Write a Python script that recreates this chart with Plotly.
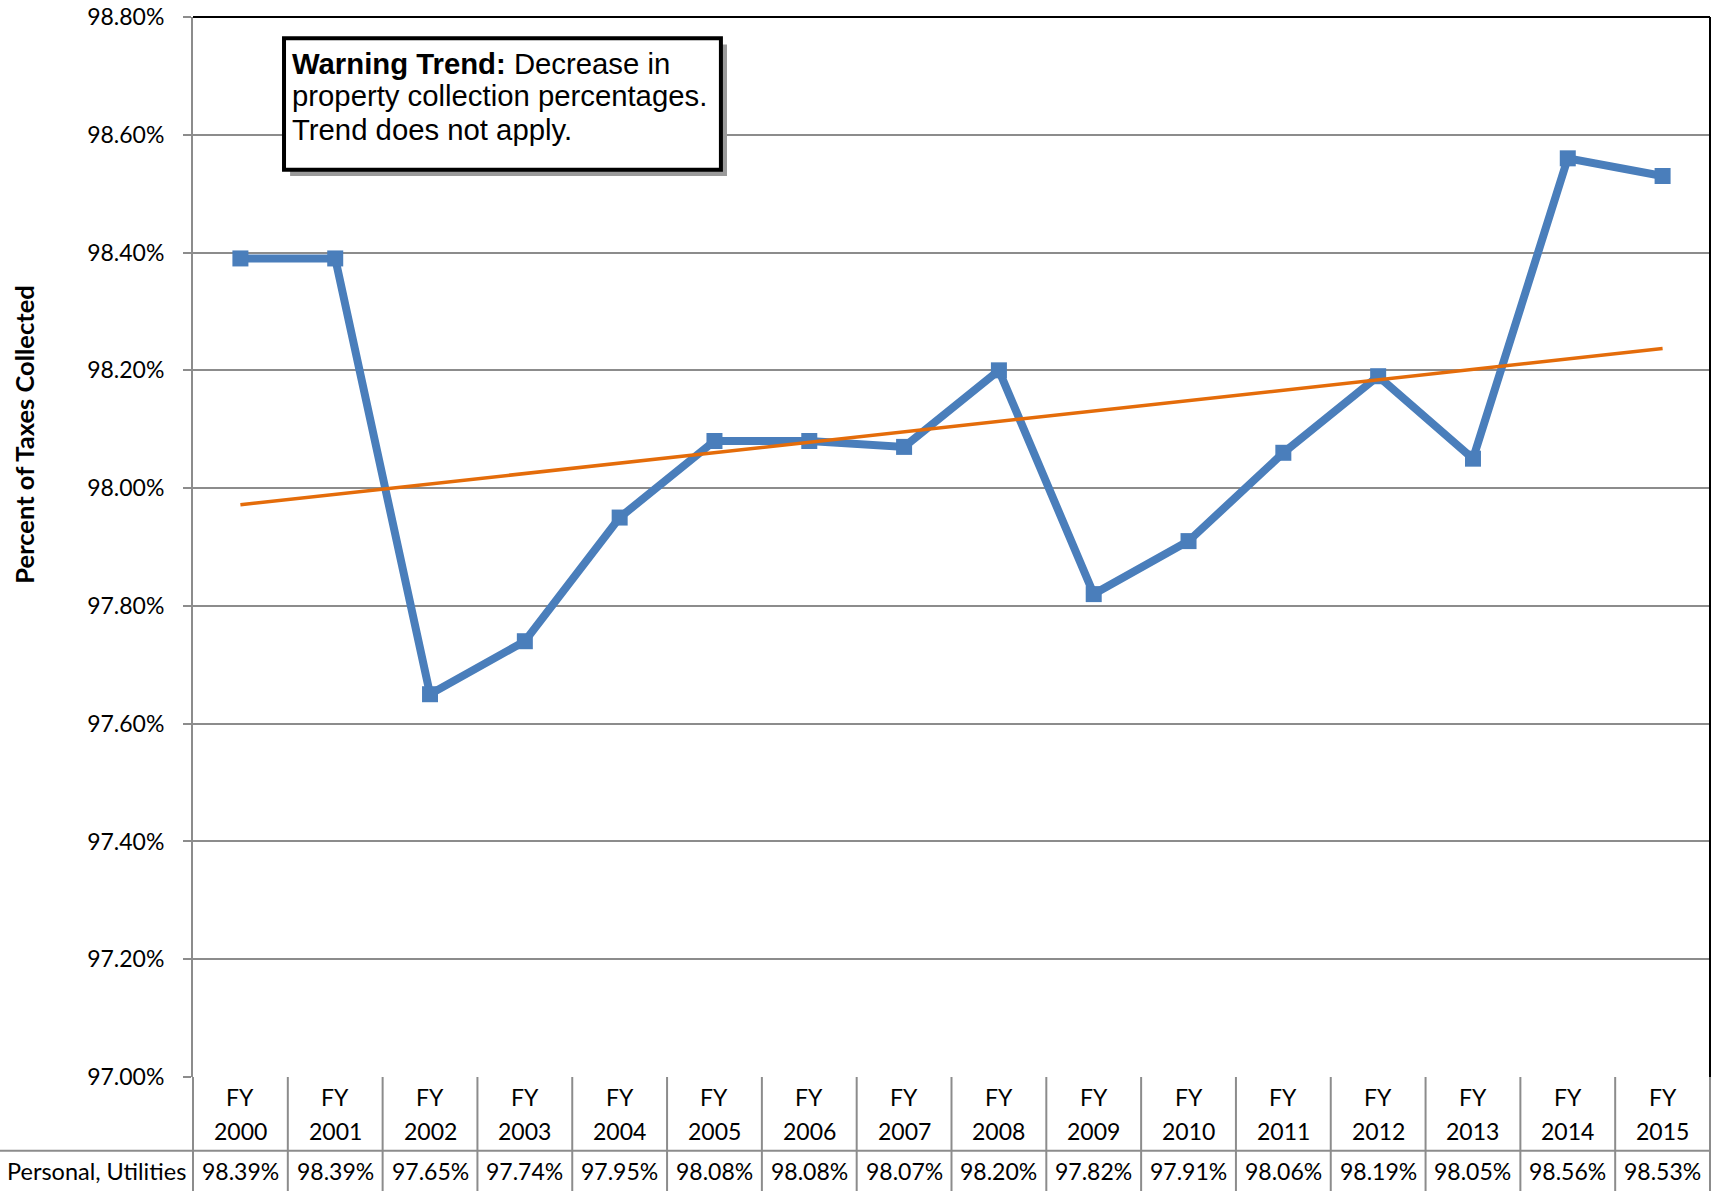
import numpy as np
import plotly.graph_objects as go

years = [2000, 2001, 2002, 2003, 2004, 2005, 2006, 2007, 2008, 2009, 2010, 2011, 2012, 2013, 2014, 2015]
values = [98.39, 98.39, 97.65, 97.74, 97.95, 98.08, 98.08, 98.07, 98.20, 97.82, 97.91, 98.06, 98.19, 98.05, 98.56, 98.53]
row_label = "Personal, Utilities"
y_title = "Percent of Taxes Collected"
y_ticks = [97.0, 97.2, 97.4, 97.6, 97.8, 98.0, 98.2, 98.4, 98.6, 98.8]
y_ticktext = [f"{v:.2f}%" for v in y_ticks]

idx = list(range(len(years)))
slope, intercept = np.polyfit(idx, values, 1)
trend = [slope * i + intercept for i in idx]

TICKFONT = "Lato, Calibri, Carlito, sans-serif"
BOXFONT = "Liberation Sans, Arial, sans-serif"

fig = go.Figure()
fig.add_trace(go.Scatter(
    x=idx, y=values, mode="lines+markers",
    line=dict(color="#4A7EBB", width=8),
    marker=dict(symbol="square", size=16, color="#4A7EBB"),
    showlegend=False, hoverinfo="skip"))
fig.add_trace(go.Scatter(
    x=idx, y=trend, mode="lines",
    line=dict(color="#E46C0A", width=3.5),
    showlegend=False, hoverinfo="skip"))

n = len(years)
shapes = []
grid = "#8C8C8C"
# table grid
for i in range(n + 1):
    shapes.append(dict(type="line", xref="paper", yref="paper", x0=i / n, x1=i / n,
                       y0=0, y1=-0.12, line=dict(color=grid, width=2)))
shapes.append(dict(type="line", xref="paper", yref="paper", x0=-0.13, x1=1,
                   y0=-0.0695, y1=-0.0695, line=dict(color=grid, width=2)))
# black top/right frame
shapes.append(dict(type="line", xref="paper", yref="paper", x0=0, x1=1, y0=1, y1=1,
                   line=dict(color="black", width=2)))
shapes.append(dict(type="line", xref="paper", yref="paper", x0=1, x1=1, y0=0, y1=1,
                   line=dict(color="black", width=2)))
# warning box with shadow
bx0, bx1, by0, by1 = 0.0600, 0.348, 0.856, 0.980
shapes.append(dict(type="rect", xref="paper", yref="paper", x0=bx0 + 0.004, x1=bx1 + 0.004,
                   y0=by0 - 0.006, y1=by1 - 0.006, line=dict(width=0), fillcolor="#9A9A9A", layer="above"))
shapes.append(dict(type="rect", xref="paper", yref="paper", x0=bx0, x1=bx1, y0=by0, y1=by1,
                   line=dict(color="black", width=4), fillcolor="white", layer="above"))

ann = []
box_lines = ["<b>Warning Trend:</b> Decrease in", "property collection percentages.", "Trend does not apply."]
for txt, yy in zip(box_lines, [0.9566, 0.9256, 0.8936]):
    ann.append(dict(xref="paper", yref="paper", x=0.0640, y=yy, xanchor="left", yanchor="middle",
                    text=txt, showarrow=False, font=dict(family=BOXFONT, size=29.3, color="black")))
for i, (yr, v) in enumerate(zip(years, values)):
    ann.append(dict(xref="x", yref="paper", x=i, y=-0.0185, text="FY", showarrow=False,
                    xanchor="center", yanchor="middle", font=dict(family=TICKFONT, size=23, color="black")))
    ann.append(dict(xref="x", yref="paper", x=i, y=-0.0505, text=str(yr), showarrow=False,
                    xanchor="center", yanchor="middle", font=dict(family=TICKFONT, size=23, color="black")))
    ann.append(dict(xref="x", yref="paper", x=i, y=-0.0885, text=f"{v:.2f}%", showarrow=False,
                    xanchor="center", yanchor="middle", font=dict(family=TICKFONT, size=23, color="black")))
ann.append(dict(xref="paper", yref="paper", x=-0.0030, y=-0.0885, text=row_label, showarrow=False,
                xanchor="right", yanchor="middle", font=dict(family=TICKFONT, size=23.5, color="black")))
ann.append(dict(xref="paper", yref="paper", x=-0.1114, y=0.606, text=f"<b>{y_title}</b>", showarrow=False,
                textangle=-90, xanchor="center", yanchor="middle",
                font=dict(family=TICKFONT, size=25.5, color="black")))

fig.update_layout(
    width=1722, height=1191,
    margin=dict(l=193, r=12, t=17, b=114, autoexpand=False),
    paper_bgcolor="white", plot_bgcolor="white",
    shapes=shapes, annotations=ann,
    xaxis=dict(range=[-0.5, n - 0.5], showticklabels=False, showgrid=False, zeroline=False,
               showline=False, ticks="", automargin=False),
    yaxis=dict(range=[97.0, 98.8], tickvals=y_ticks, ticktext=y_ticktext,
               showgrid=True, gridcolor=grid, gridwidth=1.5, zeroline=False,
               showline=True, linecolor=grid, linewidth=2,
               ticks="outside", ticklen=8, tickcolor=grid, tickwidth=1.5,
               ticklabelstandoff=14, automargin=False,
               tickfont=dict(family=TICKFONT, size=23, color="black")),
)

fig.write_html("out.html", config={"displayModeBar": False},
               post_script="document.body.style.margin='0';document.body.style.overflow='hidden';")
